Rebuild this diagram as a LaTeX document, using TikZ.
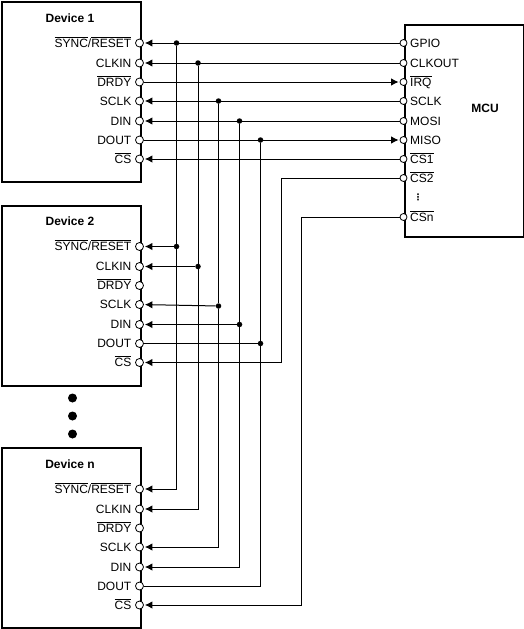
\documentclass[tikz,border=0pt]{standalone}
\usepackage{amsmath}
\usepackage{fontspec}
\setmainfont{Liberation Sans}
\newfontfamily\symfont{DejaVu Sans}
\usetikzlibrary{arrows.meta}
\newcommand{\barsig}[1]{$\overline{\text{#1}}$}
\tikzset{
  chipbox/.style={draw,line width=2.2pt,inner sep=0pt,anchor=north west},
  pinhole/.style={draw,circle,fill=white,line width=0.8pt,inner sep=0pt,minimum size=8pt},
  joint/.style={circle,fill=black,inner sep=0pt,minimum size=5.5pt},
  bigdot/.style={circle,fill=black,inner sep=0pt,minimum size=9pt},
  siglabel/.style={inner sep=0pt,font=\fontsize{12}{12}\selectfont},
  headlabel/.style={inner sep=0pt,font=\fontsize{12}{12}\selectfont\bfseries},
  wire/.style={line width=1pt},
  inwire/.style={wire,-{Latex[length=7.5pt,width=7.5pt]},shorten >=1pt}
}
\begin{document}
\begin{tikzpicture}[x=1pt,y=-1pt]
\useasboundingbox (0,0) rectangle (524,629);
% device boxes with their pins
\foreach \dev/\ytop in {1/1, 2/204.5, n/447} {
  \node[chipbox,minimum width=138.5pt,minimum height=180pt] (box\dev) at (1,\ytop) {};
  \node[headlabel,anchor=base] (head\dev) at (70,\ytop+21) {Device \dev};
  \foreach \sig/\off/\lbl in {sync/42/{\barsig{SYNC}/\barsig{RESET}}, clkin/62/CLKIN, drdy/81/\barsig{DRDY},
                              sclk/100/SCLK, din/120/DIN, dout/139/DOUT, cs/158/\barsig{CS}} {
    \node[pinhole] (d\dev-\sig) at (139.5,\ytop+\off) {};
    \node[siglabel,anchor=base east] (t\dev-\sig) at (131.5,\ytop+\off+4) {\lbl};
  }
}
% mcu box with its pins
\node[chipbox,line width=2pt,minimum width=119pt,minimum height=212pt] (boxm) at (403.5,24) {};
\node[headlabel,anchor=base] (headm) at (485,112.5) {MCU};
\foreach \sig/\y/\lbl in {gpio/43/GPIO, clkout/63/CLKOUT, irq/82/\barsig{IRQ}, sclk/101/SCLK, mosi/121/MOSI,
                          miso/140/MISO, cs1/159/\barsig{CS1}, cs2/178/\barsig{CS2}, csn/217/\barsig{CSn}} {
  \node[pinhole,minimum size=7pt] (m-\sig) at (403.5,\y) {};
  \node[siglabel,anchor=base west] (tm-\sig) at (410,\y+4) {\lbl};
}
\node[siglabel] (mdots) at (418,197) {\fontsize{9}{9}\symfont\bfseries ⋮};
% dots between device 2 and device n
\foreach \i/\y in {1/398, 2/416, 3/434}
  \node[bigdot] (gap\i) at (72.5,\y) {};
% shared inputs of all devices
\foreach \sig/\msig/\x/\dy in {sync/gpio/176.5/0, clkin/clkout/198/0, sclk/sclk/218.5/1.5, din/mosi/239.5/0} {
  \node[joint] (j1-\sig) at (\x,0 |- d1-\sig) {};
  \node[joint,yshift=-\dy pt] (j2-\sig) at (\x,0 |- d2-\sig) {};
  \draw[inwire] (m-\msig) -- (d1-\sig);
  \draw[inwire] (j2-\sig) -- (d2-\sig);
  \draw[wire] (j1-\sig) -- (j2-\sig);
  \draw[inwire] (j2-\sig) |- (dn-\sig);
}
% dout and drdy back to the mcu
\node[joint] (j1-dout) at (260.5,0 |- d1-dout) {};
\node[joint] (j2-dout) at (260.5,0 |- d2-dout) {};
\draw[inwire] (d1-dout) -- (m-miso);
\draw[wire] (d2-dout) -- (j2-dout);
\draw[wire] (j1-dout) -- (j2-dout);
\draw[wire] (j2-dout) |- (dn-dout);
\draw[inwire] (d1-drdy) -- (m-irq);
% chip selects
\coordinate (bend2) at (281.5,0 |- m-cs2);
\coordinate (bendn) at (301.5,0 |- m-csn);
\draw[inwire] (m-cs1) -- (d1-cs);
\draw[inwire] (m-cs2) -- (bend2) |- (d2-cs);
\draw[inwire] (m-csn) -- (bendn) |- (dn-cs);
\end{tikzpicture}
\end{document}
